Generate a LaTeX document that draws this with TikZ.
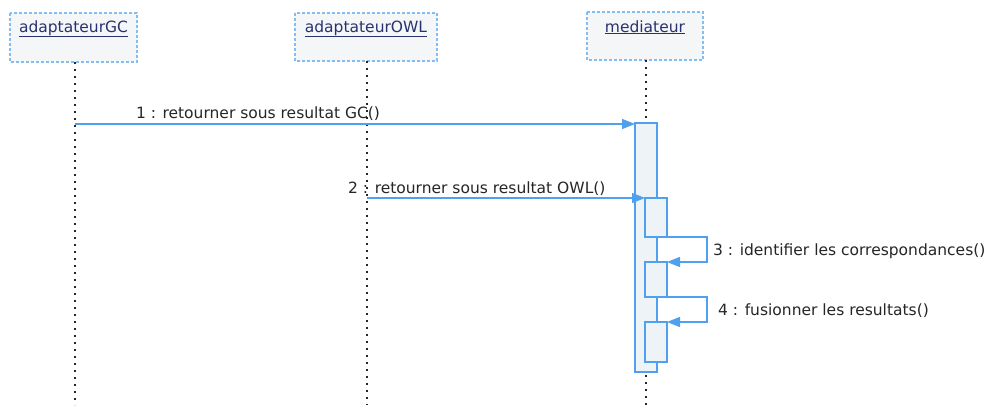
\documentclass[tikz,border=0pt]{standalone}
\usepackage{fontspec}
\setmainfont{DejaVu Sans}
\usetikzlibrary{arrows.meta}
\definecolor{umlblue}{RGB}{80,160,240}
\definecolor{boxfill}{RGB}{244,246,248}
\definecolor{boxtext}{RGB}{40,50,110}
\definecolor{actfill}{RGB}{238,243,247}
\begin{document}
\begin{tikzpicture}[x=1pt,y=-1pt,
  objbox/.style={draw=umlblue!70, densely dashed, line width=1.2pt, fill=boxfill},
  objlabel/.style={font=\fontsize{15.5}{18}\selectfont, text=boxtext, anchor=base},
  lifeline/.style={line width=2pt, dash pattern=on 2pt off 5pt, black!85},
  act/.style={draw=umlblue, line width=1.2pt, fill=actfill},
  msg/.style={draw=umlblue, line width=1.2pt, -{Triangle[length=13pt,width=10pt]}},
  msglabel/.style={font=\fontsize{15.5}{18}\selectfont, text=black!85}]
\useasboundingbox (0,0) rectangle (995,408);
\fill[white] (0,0) rectangle (995,408);
% object boxes
\draw[objbox] (10,13) rectangle (137,62);
\draw[objbox] (295,13) rectangle (437,61);
\draw[objbox] (587,12) rectangle (703,60);
\node[objlabel] (gc) at (73.5,32) {\underline{adaptateurGC}};
\node[objlabel] (owl) at (366,32) {\underline{adaptateurOWL}};
\node[objlabel] (med) at (645,32) {\underline{mediateur}};
% lifelines
\coordinate (gcTop) at (75,62); \coordinate (gcBot) at (75,405);
\coordinate (owlTop) at (367,61); \coordinate (owlBot) at (367,405);
\coordinate (medTop) at (646,60); \coordinate (medBot) at (646,405);
\draw[lifeline] (gcTop) -- (gcBot);
\draw[lifeline] (owlTop) -- (owlBot);
\draw[lifeline] (medTop) -- (medBot);
% activations
\draw[act] (635,123) rectangle (657,372);
\draw[act] (645,198) rectangle (667,237);
\draw[act] (645,262) rectangle (667,297);
\draw[act] (645,322) rectangle (667,362);
% messages
\coordinate (m1s) at (75,124); \coordinate (m1e) at (635,124);
\draw[msg] (m1s) -- (m1e);
\node[msglabel, anchor=base] (l1) at (258,118) {1 : retourner sous resultat GC()};
\coordinate (m2s) at (367,198); \coordinate (m2e) at (645,198);
\draw[msg] (m2s) -- (m2e);
\node[msglabel, anchor=base west, inner sep=0pt] (l2) at (348,193) {2 : retourner sous resultat OWL()};
\coordinate (s3a) at (667,237); \coordinate (s3b) at (707,237);
\coordinate (s3c) at (707,262); \coordinate (s3d) at (667,262);
\draw[msg] (s3a) -- (s3b) -- (s3c) -- (s3d);
\node[msglabel, anchor=base west, inner sep=0pt] (l3) at (713,255) {3 : identifier les correspondances()};
\coordinate (s4a) at (667,297); \coordinate (s4b) at (707,297);
\coordinate (s4c) at (707,322); \coordinate (s4d) at (667,322);
\draw[msg] (s4a) -- (s4b) -- (s4c) -- (s4d);
\node[msglabel, anchor=base west, inner sep=0pt] (l4) at (718,315) {4 : fusionner les resultats()};
\end{tikzpicture}
\end{document}
